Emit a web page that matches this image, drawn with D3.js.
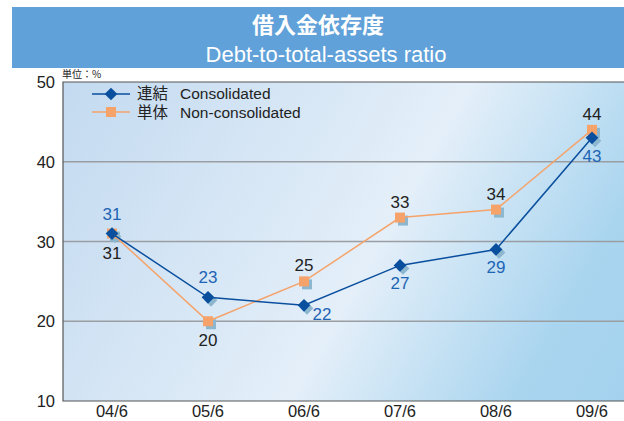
<!DOCTYPE html>
<html>
<head>
<meta charset="utf-8">
<script src="https://cdn.jsdelivr.net/npm/d3@7/dist/d3.min.js"></script>
<style>
body { margin: 0; background: #fff; }
svg text { font-family: "Liberation Sans", Arial, "Noto Sans CJK JP", sans-serif; }
</style>
</head>
<body>
<script>
var periods = ["04/6", "05/6", "06/6", "07/6", "08/6", "09/6"];
var consolidated = [31, 23, 22, 27, 29, 43];
var nonConsolidated = [31, 20, 25, 33, 34, 44];
var yTicks = [10, 20, 30, 40, 50];
// label side for each point: -1 above, 1 below
var consPos = [-1, -1, 1, 1, 1, 1];
var nonPos = [1, 1, -1, -1, -1, -1];

var width = 624, height = 421;
var pLeft = 63, pRight = 624, pTop = 82, pBottom = 401;

var svg = d3.select("body").append("svg").attr("width", width).attr("height", height);

var defs = svg.append("defs");
var grad = defs.append("linearGradient").attr("id", "bg")
	.attr("gradientUnits", "userSpaceOnUse")
	.attr("x1", pLeft).attr("y1", pTop).attr("x2", pRight).attr("y2", pBottom);
grad.append("stop").attr("offset", 0).attr("stop-color", "#c3daf0");
grad.append("stop").attr("offset", 0.55).attr("stop-color", "#e4eff9");
grad.append("stop").attr("offset", 0.85).attr("stop-color", "#aad5ef");
grad.append("stop").attr("offset", 1).attr("stop-color", "#a4d2ee");

// title bar
svg.append("rect").attr("x", 12).attr("y", 7).attr("width", 612).attr("height", 61).attr("fill", "#5fa1d8");
svg.append("text").attr("x", 318).attr("y", 33).attr("text-anchor", "middle")
	.attr("fill", "#fff").style("font-size", "22px").style("font-weight", "bold")
	.style("font-family", "'Noto Sans CJK JP', sans-serif").text("借入金依存度");
svg.append("text").attr("x", 326).attr("y", 62).attr("text-anchor", "middle")
	.attr("fill", "#fff").style("font-size", "22px").text("Debt-to-total-assets ratio");

var x = d3.scalePoint().domain(periods).range([112, 592]);
var y = d3.scaleLinear().domain([10, 50]).range([pBottom, pTop]);

svg.append("rect").attr("x", pLeft).attr("y", pTop).attr("width", pRight - pLeft).attr("height", pBottom - pTop)
	.attr("fill", "url(#bg)");

// gridlines
svg.selectAll(".grid").data([20, 30, 40]).enter().append("line").attr("class", "grid")
	.attr("x1", pLeft).attr("x2", pRight)
	.attr("y1", function (d) { return y(d); }).attr("y2", function (d) { return y(d); })
	.attr("stroke", "#9a9ea2").attr("stroke-width", 1.5);

// frame
svg.append("path").attr("d", "M" + pRight + "," + pTop + "H" + pLeft + "V" + pBottom + "H" + pRight)
	.attr("fill", "none").attr("stroke", "#555").attr("stroke-width", 1.2);

// y axis labels
svg.selectAll(".ytick").data(yTicks).enter().append("text").attr("class", "ytick")
	.attr("x", 55).attr("y", function (d) { return y(d) + 6; }).attr("text-anchor", "end")
	.attr("fill", "#222").style("font-size", "16.5px").text(function (d) { return d; });

// x axis labels
svg.selectAll(".xtick").data(periods).enter().append("text").attr("class", "xtick")
	.attr("x", function (d) { return x(d); }).attr("y", 417).attr("text-anchor", "middle")
	.attr("fill", "#222").style("font-size", "16.5px").text(function (d) { return d; });

svg.append("text").attr("x", 62).attr("y", 78).attr("fill", "#222")
	.style("font-size", "10px").style("font-family", "'Noto Sans CJK JP', sans-serif").text("単位：%");

var line = d3.line().x(function (d, i) { return x(periods[i]); }).y(function (d) { return y(d); });

var blue = "#0a4f9e", orange = "#f5a36a", shadow = "#8cb7cf";

function diamond(g, cx, cy, fill) {
	g.append("rect").attr("x", -4.5).attr("y", -4.5).attr("width", 9).attr("height", 9)
		.attr("transform", "translate(" + cx + "," + cy + ") rotate(45)").attr("fill", fill);
}
function square(g, cx, cy, fill) {
	g.append("rect").attr("x", cx - 5).attr("y", cy - 5).attr("width", 10).attr("height", 10).attr("fill", fill);
}

// shadows first
var sh = svg.append("g");
nonConsolidated.forEach(function (d, i) { square(sh, x(periods[i]) + 3, y(d) + 3, shadow); });
consolidated.forEach(function (d, i) { diamond(sh, x(periods[i]) + 3, y(d) + 3, shadow); });

svg.append("path").datum(nonConsolidated).attr("d", line).attr("fill", "none").attr("stroke", orange).attr("stroke-width", 1.5);
var mo = svg.append("g");
nonConsolidated.forEach(function (d, i) { square(mo, x(periods[i]), y(d), orange); });

svg.append("path").datum(consolidated).attr("d", line).attr("fill", "none").attr("stroke", blue).attr("stroke-width", 1.5);
var mb = svg.append("g");
consolidated.forEach(function (d, i) { diamond(mb, x(periods[i]), y(d), blue); });

// value labels
svg.selectAll(".lblB").data(consolidated).enter().append("text").attr("class", "lblB")
	.attr("x", function (d, i) { return x(periods[i]) + (i == 2 ? 18 : 0); })
	.attr("y", function (d, i) { return y(d) + (consPos[i] < 0 ? -14 : (i == 2 ? 15 : 24)); })
	.attr("text-anchor", "middle").attr("fill", "#1e64b4").style("font-size", "17px")
	.text(function (d) { return d; });
svg.selectAll(".lblO").data(nonConsolidated).enter().append("text").attr("class", "lblO")
	.attr("x", function (d, i) { return x(periods[i]); })
	.attr("y", function (d, i) { return y(d) + (nonPos[i] < 0 ? -10 : 25); })
	.attr("text-anchor", "middle").attr("fill", "#222").style("font-size", "17px")
	.text(function (d) { return d; });

// legend
var lg = svg.append("g");
lg.append("line").attr("x1", 92).attr("x2", 130).attr("y1", 94).attr("y2", 94).attr("stroke", blue).attr("stroke-width", 1.5);
diamond(lg, 111, 94, blue);
lg.append("line").attr("x1", 92).attr("x2", 130).attr("y1", 112).attr("y2", 112).attr("stroke", orange).attr("stroke-width", 1.5);
square(lg, 111, 112, orange);
lg.append("text").attr("x", 137).attr("y", 99).attr("fill", "#222").style("font-size", "15.5px")
	.text("連結\u2002 Consolidated");
lg.append("text").attr("x", 137).attr("y", 118).attr("fill", "#222").style("font-size", "15.5px")
	.text("単体\u2002 Non-consolidated");
</script>
</body>
</html>
